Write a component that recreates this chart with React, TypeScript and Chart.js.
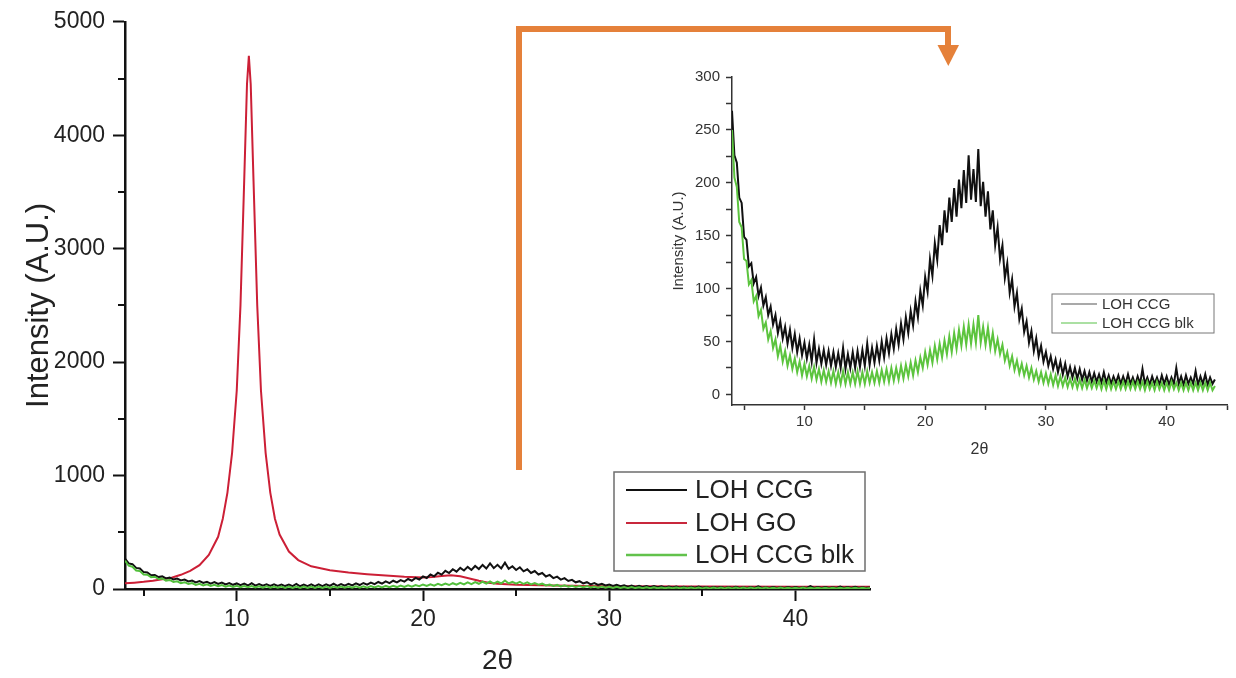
import React, { useEffect, useRef } from "react";
import { Chart, registerables } from "chart.js";

Chart.register(...registerables);

// ---------------- data ----------------
// XRD scans recorded on a regular 2θ grid
const SCAN_START = 4.0; // 2θ of first scan point
const SCAN_STEP = 0.2; // 2θ step between scan points

const LOH_CCG = [
  268, 226, 219, 186, 181, 149, 146, 121, 124, 105,
  111, 93, 101, 84, 92, 75, 83, 66, 75, 58,
  69, 53, 64, 48, 61, 44, 57, 40, 53, 37,
  49, 34, 47, 31, 52, 30, 43, 29, 42, 28,
  41, 27, 40, 26, 39, 25, 44, 24, 38, 25,
  40, 25, 41, 26, 42, 27, 48, 28, 44, 30,
  46, 32, 50, 35, 53, 39, 57, 43, 62, 47,
  67, 52, 73, 58, 79, 65, 88, 73, 98, 84,
  111, 97, 128, 112, 143, 127, 160, 141, 174, 153,
  186, 163, 195, 168, 203, 176, 212, 181, 226, 184,
  213, 182, 232, 178, 201, 168, 192, 156, 174, 141,
  158, 128, 141, 110, 124, 96, 109, 83, 96, 71,
  81, 59, 69, 49, 60, 41, 53, 36, 46, 31,
  40, 27, 36, 24, 33, 21, 31, 19, 29, 17,
  26, 16, 25, 15, 24, 14, 22, 13, 21, 12,
  20, 12, 19, 11, 21, 11, 18, 10, 17, 11,
  18, 10, 17, 10, 19, 10, 16, 9, 17, 10,
  24, 10, 16, 9, 17, 10, 16, 9, 18, 10,
  17, 9, 16, 10, 25, 10, 17, 9, 18, 10,
  16, 10, 22, 9, 17, 10, 19, 9, 16, 10,
  14,
];

const LOH_CCG_BLK = [
  250, 205, 196, 163, 158, 128, 126, 104, 108, 88,
  93, 74, 80, 62, 68, 52, 60, 44, 52, 36,
  46, 31, 41, 27, 37, 24, 34, 21, 31, 18,
  29, 17, 27, 15, 26, 14, 24, 12, 23, 12,
  22, 11, 22, 10, 21, 10, 22, 10, 21, 10,
  21, 10, 22, 10, 21, 10, 22, 11, 21, 11,
  22, 11, 23, 12, 24, 12, 25, 13, 25, 14,
  27, 15, 28, 17, 30, 18, 32, 21, 35, 25,
  40, 28, 42, 30, 46, 33, 48, 35, 51, 38,
  55, 40, 58, 43, 61, 46, 64, 47, 66, 48,
  66, 49, 75, 49, 64, 47, 63, 44, 58, 41,
  52, 38, 47, 32, 40, 27, 36, 23, 32, 20,
  29, 18, 27, 16, 25, 14, 22, 12, 21, 11,
  20, 10, 19, 9, 18, 8, 17, 8, 16, 7,
  15, 7, 15, 6, 14, 6, 14, 6, 13, 6,
  13, 6, 13, 5, 13, 5, 13, 5, 12, 5,
  12, 5, 12, 5, 12, 5, 12, 5, 12, 5,
  12, 4, 12, 5, 11, 4, 12, 5, 11, 4,
  11, 4, 12, 5, 11, 4, 11, 4, 11, 4,
  11, 4, 11, 4, 11, 4, 11, 4, 11, 4,
  8,
];

const LOH_GO_2THETA = [
  4, 4.5, 5, 5.5, 6, 6.5, 7, 7.5, 8, 8.5, 9, 9.25, 9.5, 9.75, 10, 10.2, 10.4,
  10.55, 10.65, 10.75, 10.9, 11.1, 11.3, 11.55, 11.8, 12.05, 12.3, 12.8, 13.3,
  14, 15, 16, 17, 18, 19, 20, 20.5, 21, 21.5, 22, 22.5, 23, 23.5, 24, 25, 27,
  30, 35, 40, 44,
];
const LOH_GO = [
  50, 56, 63, 72, 85, 100, 125, 160, 210, 300, 460, 620, 850, 1200, 1750, 2500,
  3600, 4450, 4700, 4450, 3600, 2500, 1750, 1200, 850, 620, 480, 330, 255,
  200, 165, 145, 130, 118, 108, 102, 106, 115, 122, 112, 92, 72, 56, 46, 38, 30,
  25, 22, 20, 20,
];

const NAME_CCG = "LOH CCG";
const NAME_GO = "LOH GO";
const NAME_BLK = "LOH CCG blk";

// axis ticks
const MAIN_X_TICKS = [10, 20, 30, 40];
const MAIN_Y_TICKS = [0, 1000, 2000, 3000, 4000, 5000];
const MAIN_X_MINOR = [5, 15, 25, 35];
const MAIN_Y_MINOR = [500, 1500, 2500, 3500, 4500];
const INSET_X_TICKS = [5, 10, 15, 20, 25, 30, 35, 40, 45];
const INSET_Y_TICKS = [0, 25, 50, 75, 100, 125, 150, 175, 200, 225, 250, 275, 300];

// ---------------- styles ----------------
const FONT = "'Liberation Sans', Arial, Helvetica, sans-serif";
const INK = "#111111";
const TEXT = "#222222";
const RED = "#cc1f36";
const GREEN = "#52bf3c";
const INSET_GREEN = "#5cc43e";
const ORANGE = "#e5813a";

function scanPoints(values: number[]) {
  return values.map((y, i) => ({
    x: Math.round((SCAN_START + i * SCAN_STEP) * 100) / 100,
    y,
  }));
}

function fixedTicks(values: number[]) {
  return (scale: any) => {
    scale.ticks = values.map((value) => ({ value }));
  };
}

type LegendEntry = { label: string; color: string; width: number };

function boxedLegend(id: string, cfg: any) {
  return {
    id,
    afterDraw(chart: any) {
      const ctx = chart.ctx;
      ctx.save();
      ctx.strokeStyle = cfg.borderColor;
      ctx.lineWidth = cfg.borderWidth;
      ctx.strokeRect(cfg.x0, cfg.y0, cfg.x1 - cfg.x0, cfg.y1 - cfg.y0);
      ctx.font = cfg.font;
      ctx.textBaseline = "middle";
      ctx.textAlign = "left";
      cfg.items.forEach((it: LegendEntry, i: number) => {
        const y = cfg.rows[i];
        ctx.strokeStyle = it.color;
        ctx.lineWidth = it.width;
        ctx.beginPath();
        ctx.moveTo(cfg.lineX0, y);
        ctx.lineTo(cfg.lineX1, y);
        ctx.stroke();
        ctx.fillStyle = cfg.textColor;
        ctx.fillText(it.label, cfg.textX, y + 1);
      });
      ctx.restore();
    },
  };
}

function minorTicks(id: string, cfg: any) {
  return {
    id,
    afterDraw(chart: any) {
      const ctx = chart.ctx;
      const xs = chart.scales.x;
      const ys = chart.scales.y;
      const area = chart.chartArea;
      ctx.save();
      ctx.strokeStyle = cfg.color;
      ctx.lineWidth = cfg.width;
      ctx.beginPath();
      cfg.x.forEach((v: number) => {
        const px = Math.round(xs.getPixelForValue(v));
        ctx.moveTo(px, area.bottom);
        ctx.lineTo(px, area.bottom + cfg.len);
      });
      cfg.y.forEach((v: number) => {
        const py = Math.round(ys.getPixelForValue(v));
        ctx.moveTo(area.left, py);
        ctx.lineTo(area.left - cfg.len, py);
      });
      ctx.stroke();
      ctx.restore();
    },
  };
}

const calloutArrow = {
  id: "calloutArrow",
  afterDraw(chart: any) {
    const ctx = chart.ctx;
    ctx.save();
    ctx.strokeStyle = ORANGE;
    ctx.fillStyle = ORANGE;
    ctx.lineWidth = 6;
    ctx.lineJoin = "miter";
    ctx.beginPath();
    ctx.moveTo(519, 470);
    ctx.lineTo(519, 29);
    ctx.lineTo(948, 29);
    ctx.lineTo(948, 48);
    ctx.stroke();
    ctx.beginPath();
    ctx.moveTo(937.5, 45);
    ctx.lineTo(959, 45);
    ctx.lineTo(948.3, 66);
    ctx.closePath();
    ctx.fill();
    ctx.restore();
  },
};

export default function App() {
  const mainRef = useRef<HTMLCanvasElement | null>(null);
  const insetRef = useRef<HTMLCanvasElement | null>(null);

  useEffect(() => {
    const mainCanvas = mainRef.current!;
    const insetCanvas = insetRef.current!;

    const main = new Chart(mainCanvas, {
      type: "line",
      data: {
        datasets: [
          {
            label: NAME_BLK,
            data: scanPoints(LOH_CCG_BLK),
            borderColor: GREEN,
            borderWidth: 2,
            pointRadius: 0,
            order: 0,
          },
          {
            label: NAME_CCG,
            data: scanPoints(LOH_CCG),
            borderColor: INK,
            borderWidth: 2,
            pointRadius: 0,
            order: 1,
          },
          {
            label: NAME_GO,
            data: LOH_GO_2THETA.map((x, i) => ({ x, y: LOH_GO[i] })),
            borderColor: RED,
            borderWidth: 2,
            pointRadius: 0,
            order: 2,
          },
        ],
      },
      options: {
        responsive: false,
        animation: false,
        devicePixelRatio: 1,
        layout: { padding: { left: 0, top: 21, right: 366, bottom: 0 } },
        plugins: { legend: { display: false }, tooltip: { enabled: false } },
        scales: {
          x: {
            type: "linear",
            min: 4,
            max: 44,
            afterBuildTicks: fixedTicks(MAIN_X_TICKS),
            afterFit: (s: any) => {
              s.height = 89;
            },
            ticks: {
              autoSkip: false,
              maxRotation: 0,
              padding: 5,
              color: TEXT,
              font: { family: FONT, size: 23 },
              callback: (v: any) => String(v),
            },
            grid: {
              display: true,
              drawOnChartArea: false,
              drawTicks: true,
              tickLength: 12,
              tickWidth: 2,
              tickColor: INK,
            },
            border: { display: true, color: INK, width: 2.5 },
            title: {
              display: true,
              text: "2θ",
              color: TEXT,
              font: { family: FONT, size: 28 },
              padding: { top: 0, bottom: 0 },
            },
          },
          y: {
            type: "linear",
            min: 0,
            max: 5000,
            afterBuildTicks: fixedTicks(MAIN_Y_TICKS),
            afterFit: (s: any) => {
              s.width = 125;
            },
            ticks: {
              padding: 8,
              color: TEXT,
              font: { family: FONT, size: 23 },
              callback: (v: any) => String(v),
            },
            grid: {
              display: true,
              drawOnChartArea: false,
              drawTicks: true,
              tickLength: 12,
              tickWidth: 2,
              tickColor: INK,
            },
            border: { display: true, color: INK, width: 2.5 },
            title: {
              display: true,
              text: "Intensity (A.U.)",
              color: TEXT,
              font: { family: FONT, size: 31 },
              padding: { top: 21, bottom: 0 },
            },
          },
        },
      } as any,
      plugins: [
        minorTicks("mainMinor", {
          x: MAIN_X_MINOR,
          y: MAIN_Y_MINOR,
          len: 7,
          width: 2,
          color: INK,
        }),
        boxedLegend("mainLegend", {
          x0: 614,
          y0: 472,
          x1: 865,
          y1: 571,
          rows: [490, 523, 555],
          lineX0: 626,
          lineX1: 687,
          textX: 695,
          font: `26px ${FONT}`,
          textColor: TEXT,
          borderColor: "#6e6e6e",
          borderWidth: 1.5,
          items: [
            { label: NAME_CCG, color: INK, width: 2 },
            { label: NAME_GO, color: "#c8283c", width: 2 },
            { label: NAME_BLK, color: "#62c24c", width: 2.5 },
          ],
        }),
        calloutArrow,
      ],
    });

    const inset = new Chart(insetCanvas, {
      type: "line",
      data: {
        datasets: [
          {
            label: NAME_BLK,
            data: scanPoints(LOH_CCG_BLK),
            borderColor: INSET_GREEN,
            borderWidth: 2,
            pointRadius: 0,
            order: 0,
          },
          {
            label: NAME_CCG,
            data: scanPoints(LOH_CCG),
            borderColor: INK,
            borderWidth: 2,
            pointRadius: 0,
            order: 1,
          },
        ],
      },
      options: {
        responsive: false,
        animation: false,
        devicePixelRatio: 1,
        layout: { padding: { left: 0, top: 17, right: 9, bottom: 0 } },
        plugins: { legend: { display: false }, tooltip: { enabled: false } },
        scales: {
          x: {
            type: "linear",
            min: 4,
            max: 45,
            afterBuildTicks: fixedTicks(INSET_X_TICKS),
            afterFit: (s: any) => {
              s.height = 65;
            },
            ticks: {
              autoSkip: false,
              maxRotation: 0,
              padding: 3,
              color: "#333",
              font: { family: FONT, size: 15 },
              callback: (v: any) => (Number(v) % 10 === 0 ? String(v) : ""),
            },
            grid: {
              display: true,
              drawOnChartArea: false,
              drawTicks: true,
              tickLength: 5,
              tickWidth: 1.5,
              tickColor: "#333",
            },
            border: { display: true, color: "#333", width: 1.5 },
            title: {
              display: true,
              text: "2θ",
              color: "#333",
              font: { family: FONT, size: 16 },
              padding: { top: 0, bottom: 11 },
            },
          },
          y: {
            type: "linear",
            min: -10,
            max: 300,
            afterBuildTicks: fixedTicks(INSET_Y_TICKS),
            afterFit: (s: any) => {
              s.width = 72;
            },
            ticks: {
              padding: 6,
              color: "#333",
              font: { family: FONT, size: 15 },
              callback: (v: any) => (Number(v) % 50 === 0 ? String(v) : ""),
            },
            grid: {
              display: true,
              drawOnChartArea: false,
              drawTicks: true,
              tickLength: 6,
              tickWidth: 1.5,
              tickColor: "#333",
            },
            border: { display: true, color: "#333", width: 1.5 },
            title: {
              display: true,
              text: "Intensity (A.U.)",
              color: "#333",
              font: { family: FONT, size: 15 },
              padding: { top: 10, bottom: 0 },
            },
          },
        },
      } as any,
      plugins: [
        boxedLegend("insetLegend", {
          x0: 392,
          y0: 234,
          x1: 554,
          y1: 273,
          rows: [244, 263],
          lineX0: 401,
          lineX1: 437,
          textX: 442,
          font: `15px ${FONT}`,
          textColor: "#333",
          borderColor: "#777",
          borderWidth: 1,
          items: [
            { label: NAME_CCG, color: "#8c8c8c", width: 1.5 },
            { label: NAME_BLK, color: "#8fd684", width: 1.5 },
          ],
        }),
      ],
    });

    return () => {
      main.destroy();
      inset.destroy();
    };
  }, []);

  return (
    <div
      style={{
        position: "absolute",
        left: 0,
        top: 0,
        width: 1236,
        height: 678,
        background: "#ffffff",
        overflow: "hidden",
      }}
    >
      <canvas
        ref={mainRef}
        width={1236}
        height={678}
        style={{ position: "absolute", left: 0, top: 0, width: 1236, height: 678 }}
      />
      <canvas
        ref={insetRef}
        width={576}
        height={410}
        style={{ position: "absolute", left: 660, top: 60, width: 576, height: 410 }}
      />
    </div>
  );
}
